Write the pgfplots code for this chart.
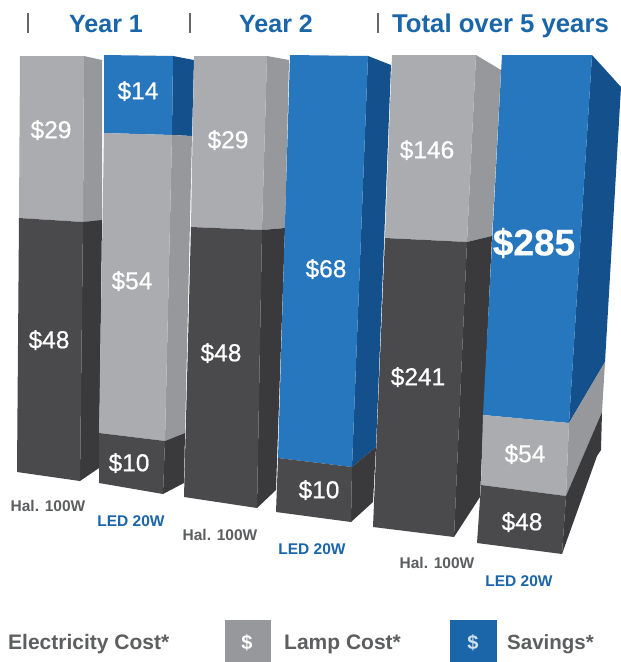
\documentclass[border=0pt]{standalone}
\usepackage{pgfplots}
\pgfplotsset{compat=1.18}
\usepackage{fontspec}
\setmainfont{Liberation Sans}
\newfontfamily\medfont[FakeBold=0.6]{Liberation Sans}
\newfontfamily\xbold[FakeBold=0.5]{Liberation Sans Bold}
\definecolor{gf}{HTML}{ABACAF}\definecolor{gs}{HTML}{97989B}
\definecolor{df}{HTML}{4A4A4C}\definecolor{ds}{HTML}{3A3A3C}
\definecolor{bf}{HTML}{2777BE}\definecolor{bs}{HTML}{14518C}
\definecolor{tb}{HTML}{1B66A8}\definecolor{lg}{HTML}{5D5E60}
\newcommand\poly[2]{\addplot[fill=#1,draw=none,forget plot] coordinates {#2} -- cycle;}
\newcommand\val[3]{\node[text=white,font=\medfont\fontsize{24.5}{28}\selectfont,inner sep=0pt] at (axis cs:#1,#2) {\$#3};}
\newcommand\hal[2]{\node[text=lg,font=\fontsize{15.5}{18}\selectfont\bfseries,inner sep=0pt] at (axis cs:#1,#2) {Hal. 100W};}
\newcommand\led[2]{\node[text=tb,font=\fontsize{15.5}{18}\selectfont\bfseries,inner sep=0pt] at (axis cs:#1,#2) {LED 20W};}
\begin{document}
\begin{tikzpicture}
\begin{axis}[scale only axis,width=621pt,height=662pt,xmin=0,xmax=621,ymin=0,ymax=662,y dir=reverse,hide axis,clip=true]
\poly{white}{(0,0)(621,0)(621,662)(0,662)}
% Hal Y1
\poly{gs}{(84,56)(102,60)(102,221)(83,222)}
\poly{gf}{(20,56)(84,56)(83,222)(19,218)}
\poly{ds}{(83,222)(102,220)(99,468)(80,481)}
\poly{df}{(19,218)(83,222)(80,481)(17,472)}
% LED Y1
\poly{bs}{(173,56)(194,60)(192,136)(172,135)}
\poly{bf}{(104,55)(173,56)(172,135)(104,133)}
\poly{gs}{(172,135)(192,136)(185,433)(165,441)}
\poly{gf}{(104,133)(172,135)(165,441)(99,433)}
\poly{ds}{(165,441)(185,433)(184,483)(163,494)}
\poly{df}{(99,433)(165,441)(163,494)(99,483)}
% Hal Y2
\poly{gs}{(267,56)(289,60)(285,228)(262,230)}
\poly{gf}{(194,56)(267,56)(262,230)(191,227)}
\poly{ds}{(262,230)(285,228)(276,490)(257,508)}
\poly{df}{(191,227)(262,230)(257,508)(184,497)}
% LED Y2
\poly{bs}{(368,56)(391,65)(376,447)(352,467)}
\poly{bf}{(290,55)(368,56)(352,467)(278,458)}
\poly{ds}{(352,467)(376,447)(373,502)(351,522)}
\poly{df}{(278,458)(352,467)(351,522)(276,512)}
% Hal 5y
\poly{gs}{(476,55)(501,70)(492,236)(467,242)}
\poly{gf}{(392,55)(476,55)(467,242)(385,238)}
\poly{ds}{(467,242)(492,236)(480,497)(454,537)}
\poly{df}{(385,238)(467,242)(454,537)(373,527)}
% LED 5y
\poly{bs}{(592,55)(621,87)(605,362)(569,423)}
\poly{bf}{(502,55)(592,55)(569,423)(483,415)}
\poly{gs}{(569,423)(605,362)(602,412)(566,496)}
\poly{gf}{(483,415)(569,423)(566,496)(481,485)}
\poly{ds}{(566,496)(602,412)(601,450)(597,456)(562,554)}
\poly{df}{(481,485)(566,496)(562,554)(477,543)}
% title separators
\addplot[draw=black!60,line width=1.8pt,forget plot] coordinates {(28,13)(28,33)};
\addplot[draw=black!60,line width=1.8pt,forget plot] coordinates {(190,13)(190,33)};
\addplot[draw=black!60,line width=1.8pt,forget plot] coordinates {(378,13)(378,33)};
% legend swatches
\poly{gs}{(225,620)(271,620)(271,662)(225,662)}
\poly{tb}{(450,620)(497,620)(497,662)(450,662)}
\node[text=tb,font=\fontsize{25}{28}\selectfont\bfseries,inner sep=0pt] at (axis cs:106,24) {Year 1};
\node[text=tb,font=\fontsize{25}{28}\selectfont\bfseries,inner sep=0pt] at (axis cs:276,24) {Year 2};
\node[text=tb,font=\fontsize{25.7}{28}\selectfont\bfseries,inner sep=0pt] at (axis cs:500.5,26) {Total over 5 years};
\val{51}{130}{29}\val{138}{91}{14}\val{132}{281}{54}\val{129}{463}{10}\val{49}{340}{48}
\val{228}{140}{29}\val{221}{353}{48}\val{326}{269}{68}\val{319}{490}{10}
\val{427}{150}{146}\val{418}{377}{241}\val{525}{454}{54}\val{522}{522}{48}
\node[text=white,font=\xbold\fontsize{37}{40}\selectfont,inner sep=0pt] at (axis cs:534,243) {\$285};
\hal{48}{506}\led{131}{521}\hal{220}{535}\led{312}{549}\hal{437}{563}\led{519}{581}
\node[text=lg,font=\fontsize{21}{24}\selectfont\bfseries,inner sep=0pt,anchor=west] at (axis cs:8,644) {Electricity Cost*};
\node[text=lg,font=\fontsize{21}{24}\selectfont\bfseries,inner sep=0pt,anchor=west] at (axis cs:284,644) {Lamp Cost*};
\node[text=lg,font=\fontsize{20.5}{24}\selectfont\bfseries,inner sep=0pt,anchor=west] at (axis cs:507,644) {Savings*};
\node[text=white,font=\fontsize{20}{22}\selectfont\bfseries,inner sep=0pt] at (axis cs:247,643) {\$};
\node[text=white!80!tb,font=\fontsize{20}{22}\selectfont\bfseries,inner sep=0pt] at (axis cs:473,643) {\$};
\end{axis}
\end{tikzpicture}
\end{document}
